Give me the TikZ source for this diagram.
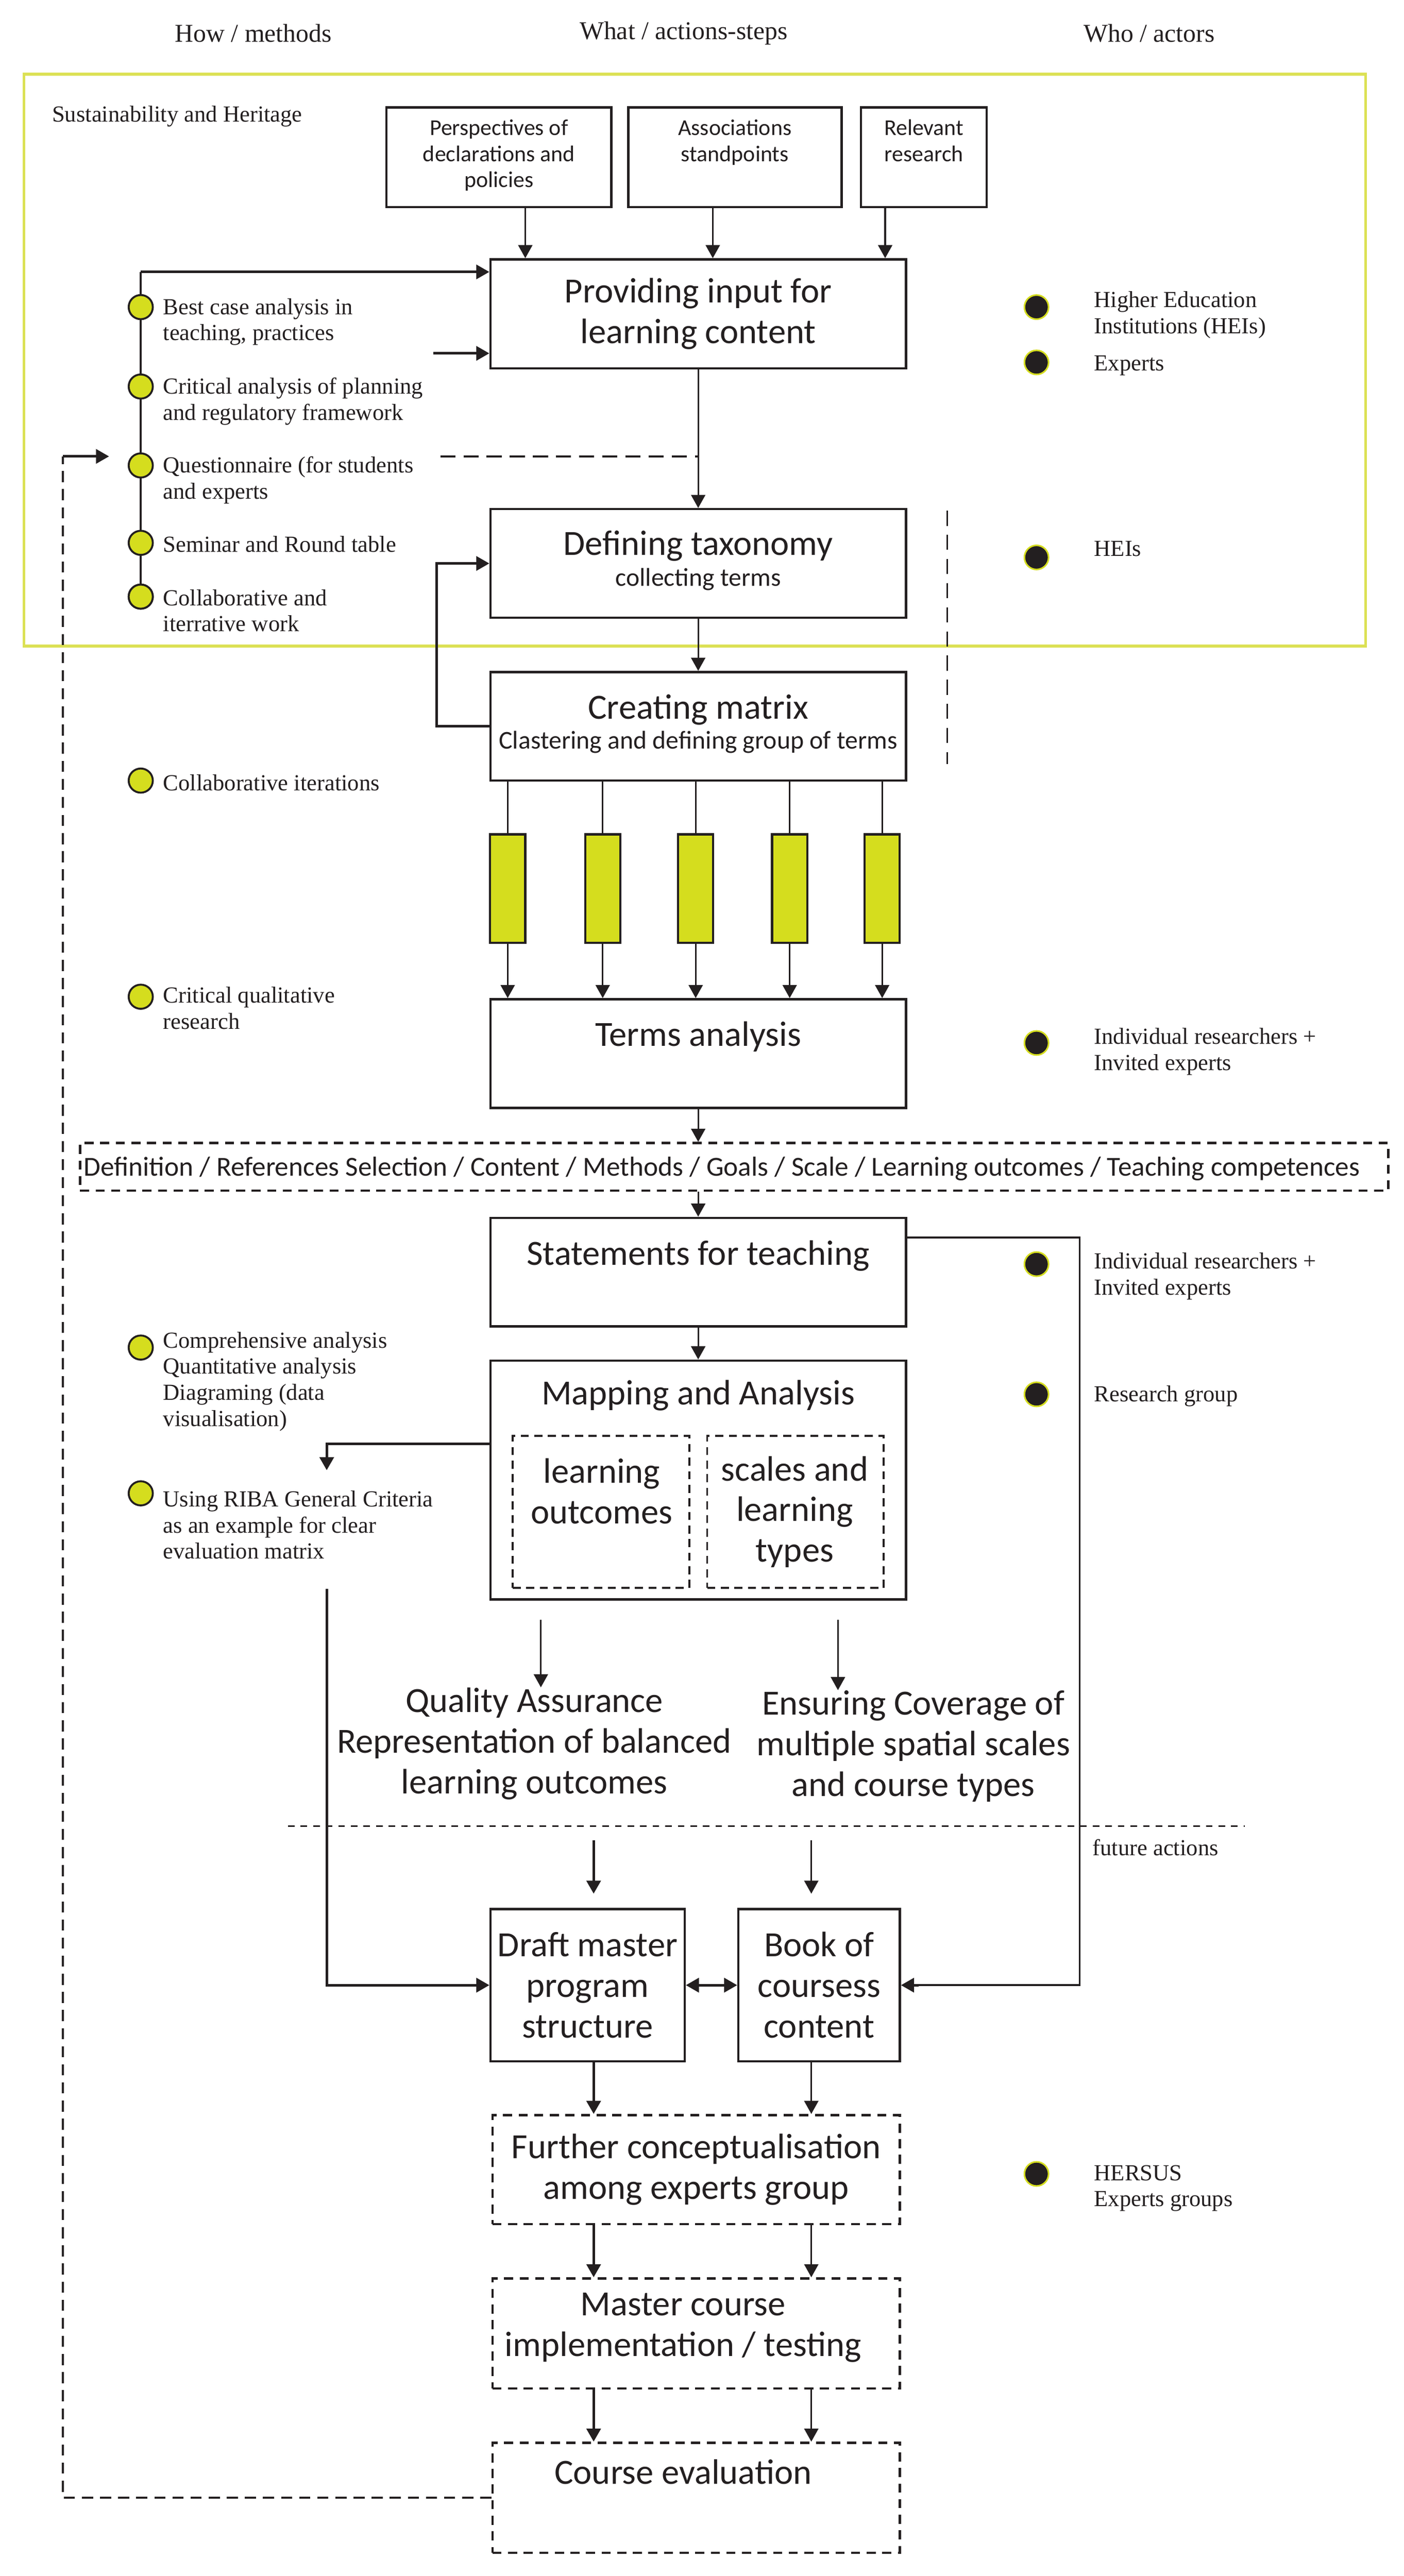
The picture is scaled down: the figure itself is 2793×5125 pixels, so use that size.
\documentclass[tikz,border=0pt]{standalone}
\usepackage{fontspec}
\setmainfont{Liberation Serif}
\newfontfamily\sansf{Carlito}
\usetikzlibrary{arrows.meta}
\definecolor{dk}{HTML}{231F20}
\definecolor{ylw}{RGB}{213,221,30}
\definecolor{frm}{RGB}{220,225,85}
\begin{document}
\begin{tikzpicture}[x=0.01cm,y=-0.01cm,
  >={Triangle[length=7.4pt,width=8pt]},
  big/.style={font=\sansf\fontsize{20}{23}\selectfont, align=center, inner sep=0pt, text=dk},
  mid/.style={font=\sansf\fontsize{14.5}{17}\selectfont, inner sep=0pt, text=dk},
  small/.style={font=\sansf\fontsize{12.8}{14.8}\selectfont, align=center, inner sep=0pt, text=dk},
  serif/.style={font=\fontsize{13}{14.8}\selectfont, align=left, inner sep=0pt, anchor=north west, text=dk},
  head/.style={font=\fontsize{14.5}{17}\selectfont, inner sep=0pt, text=dk},
  box/.style={draw=dk, line width=1.3pt, inner sep=0pt},
  dbox/.style={box, dash pattern=on 0.18cm off 0.13cm},
  ibox/.style={draw=dk, line width=1.1pt, inner sep=0pt, dash pattern=on 0.16cm off 0.11cm, minimum width=3.51cm, minimum height=3.02cm},
  ycirc/.style={circle, draw=dk, fill=ylw, line width=1.1pt, minimum size=0.48cm, inner sep=0pt},
  bcirc/.style={circle, draw=ylw, fill=dk, line width=0.9pt, minimum size=0.48cm, inner sep=0pt},
  bar/.style={draw=dk, fill=ylw, line width=1.2pt, minimum width=0.7cm, minimum height=2.16cm, inner sep=0pt},
  arr/.style={->, draw=dk, line width=0.9pt},
  tarr/.style={->, draw=dk, line width=1.5pt},
  dline/.style={draw=dk, line width=1.1pt, dash pattern=on 0.22cm off 0.14cm}
]
\useasboundingbox (0,0) rectangle (2793,5125);
\fill[white] (0,0) rectangle (2793,5125);

% headers
\node[head] (h1) at (504,66) {How / methods};
\node[head] (h2) at (1360,66) {What / actions-steps};
\node[head] (h3) at (2286,66) {Who / actors};

% yellow frame
\node[draw=frm, line width=1.5pt, minimum width=26.68cm, minimum height=11.37cm, inner sep=0pt] (frame) at (1382,716.5) {};
\node[serif, anchor=west] (sh) at (103,232) {Sustainability and Heritage};

% top input boxes
\node[box, minimum width=4.47cm, minimum height=1.98cm] (p1) at (992.5,313) {};
\node[box, minimum width=4.24cm, minimum height=1.98cm] (p2) at (1462,313) {};
\node[box, minimum width=2.50cm, minimum height=1.98cm] (p3) at (1838,313) {};
\node[small, anchor=north] (p1t) at (992.5,237) {Perspectives of\\declarations and\\policies};
\node[small, anchor=north] (p2t) at (1462,237) {Associations\\standpoints};
\node[small, anchor=north] (p3t) at (1838,237) {Relevant\\research};

% main column
\node[box, big, minimum width=8.26cm, minimum height=2.17cm] (prov) at (1389,624.5) {Providing input for\\learning content};
\draw[arr] ([xshift=0.525cm]p1.south) -- ([xshift=0.525cm]p1.south |- prov.north);
\draw[arr] ([xshift=-0.44cm]p2.south) -- ([xshift=-0.44cm]p2.south |- prov.north);
\draw[arr] ([xshift=-0.77cm]p3.south) -- ([xshift=-0.77cm]p3.south |- prov.north);

\node[box, minimum width=8.26cm, minimum height=2.16cm] (tax) at (1389,1121) {};
\node[big] (taxt) at (1389,1086) {Defining taxonomy};
\node[mid] (taxs) at (1389,1153) {collecting terms};

\node[box, minimum width=8.26cm, minimum height=2.16cm] (cm) at (1389,1445) {};
\node[big] (cmt) at (1389,1412) {Creating matrix};
\node[mid] (cms) at (1389,1476) {Clastering and defining group of terms};

\node[box, minimum width=8.26cm, minimum height=2.16cm] (terms) at (1389,2096) {};
\node[big] (termst) at (1389,2063) {Terms analysis};

\node[dbox, minimum width=26.01cm, minimum height=0.95cm] (defb) at (1460.5,2321.5) {};
\node[mid, font=\sansf\fontsize{15.55}{18}\selectfont] (defbt) at (1436,2325) {Definition / References Selection / Content / Methods / Goals / Scale / Learning outcomes / Teaching competences};

\node[box, minimum width=8.26cm, minimum height=2.16cm] (stat) at (1389,2531) {};
\node[big] (statt) at (1389,2498) {Statements for teaching};

\node[box, minimum width=8.26cm, minimum height=4.75cm] (map) at (1389,2944.5) {};
\node[big] (mapt) at (1389,2776) {Mapping and Analysis};
\node[ibox] (lo) at (1195.5,3008) {};
\node[ibox] (sl) at (1582.5,3008) {};
\node[big] (lot) at (1197,2967) {learning\\outcomes};
\node[big] (slt) at (1581,3008) {scales and\\learning\\types};

\node[big] (qa) at (1063,3469) {Quality Assurance\\Representation of balanced\\learning outcomes};
\node[big] (ec) at (1817,3474) {Ensuring Coverage of\\multiple spatial scales\\and course types};

\node[box, big, minimum width=3.86cm, minimum height=3.03cm] (draft) at (1169,3949.5) {Draft master\\program\\structure};
\node[box, big, minimum width=3.21cm, minimum height=3.03cm] (book) at (1629.5,3949.5) {Book of\\coursess\\content};

\node[dbox, big, minimum width=8.10cm, minimum height=2.17cm] (fur) at (1385,4316.5) {Further conceptualisation\\among experts group};
\node[dbox, minimum width=8.10cm, minimum height=2.19cm] (mas) at (1385,4642.5) {};
\node[big] (mast) at (1359,4631) {Master course\\implementation / testing};
\node[dbox, minimum width=8.10cm, minimum height=2.19cm] (ce) at (1385,4969.5) {};
\node[big] (cet) at (1359,4918) {Course evaluation};

% main arrows
\draw[arr] (prov.south) -- (tax.north);
\draw[arr] (tax.south) -- (cm.north);
\foreach \i/\xx in {1/1010,2/1199,3/1384,4/1571,5/1755}{
  \node[bar] (b\i) at (\xx,1768) {};
  \draw[draw=dk, line width=0.9pt] (b\i.north |- cm.south) -- (b\i.north);
  \draw[arr] (b\i.south) -- (b\i.south |- terms.north);
}
\draw[arr] (terms.south) -- (terms.south |- defb.north);
\draw[arr] (stat.north |- defb.south) -- (stat.north);
\draw[arr] (stat.south) -- (map.north);

% loop from matrix to taxonomy
\coordinate (lp) at (869,1445);
\draw[tarr] (cm.west) -- (lp) |- (tax.west);

% questionnaire dashed link
\coordinate (q1) at (876,908);
\draw[draw=dk, line width=1pt, dash pattern=on 0.3cm off 0.16cm] (q1) -- (q1 -| prov.south);

% right dashed divider
\coordinate (dv1) at (1884,1016);
\coordinate (dv2) at (1884,1520);
\draw[draw=dk, line width=0.9pt, dash pattern=on 0.3cm off 0.18cm] (dv1) -- (dv2);

% methods spine
\coordinate (sp) at (280,541);
\coordinate (s2) at (862,703);
\node[ycirc] (m5) at (280,1187) {};
\draw[draw=dk, line width=1.2pt] (sp) -- (m5.center);
\draw[tarr] (sp) -- (sp -| prov.west);
\draw[tarr] (s2) -- (s2 -| prov.west);
\node[ycirc] (m1) at (280,611) {};
\node[ycirc] (m2) at (280,769) {};
\node[ycirc] (m3) at (280,926) {};
\node[ycirc] (m4) at (280,1080) {};
\node[ycirc] (m5b) at (280,1187) {};
\node[serif] (t1) at (324,593) {Best case analysis in\\teaching, practices};
\node[serif] (t2) at (324,751) {Critical analysis of planning\\and regulatory framework};
\node[serif] (t3) at (324,908) {Questionnaire (for students\\and experts};
\node[serif] (t4) at (324,1066) {Seminar and Round table};
\node[serif] (t5) at (324,1172) {Collaborative and\\iterrative work};

\node[ycirc] (m6) at (280,1553) {};
\node[serif] (t6) at (324,1540) {Collaborative iterations};
\node[ycirc] (m7) at (280,1983) {};
\node[serif] (t7) at (324,1963) {Critical qualitative\\research};
\node[ycirc] (m8) at (280,2681) {};
\node[serif] (t8) at (324,2649) {Comprehensive analysis\\Quantitative analysis\\Diagraming (data\\visualisation)};
\node[ycirc] (m9) at (280,2971) {};
\node[serif] (t9) at (324,2965) {Using RIBA General Criteria\\as an example for clear\\evaluation matrix};

% actors
\node[bcirc] (a1) at (2062,611) {};
\node[serif] (at1) at (2176,579) {Higher Education\\Institutions (HEIs)};
\node[bcirc] (a2) at (2062,721) {};
\node[serif] (at2) at (2176,707) {Experts};
\node[bcirc] (a3) at (2062,1109) {};
\node[serif] (at3) at (2176,1076) {HEIs};
\node[bcirc] (a4) at (2062,2075) {};
\node[serif] (at4) at (2176,2045) {Individual researchers +\\Invited experts};
\node[bcirc] (a5) at (2062,2515) {};
\node[serif] (at5) at (2176,2492) {Individual researchers +\\Invited experts};
\node[bcirc] (a6) at (2062,2774) {};
\node[serif] (at6) at (2176,2756) {Research group};
\node[bcirc] (a7) at (2062,4325) {};
\node[serif] (at7) at (2176,4307) {HERSUS\\Experts groups};

% mapping -> RIBA, RIBA -> draft
\coordinate (mw) at ([yshift=0.715cm]map.west);
\coordinate (mdown) at (650,2925);
\draw[tarr] (mw) -| (mdown);
\coordinate (rb) at (650,3161);
\draw[tarr] (rb) |- (draft.west);

% statements -> book
\coordinate (st1) at ([yshift=0.69cm]stat.east);
\coordinate (rlx) at (2148,0);
\draw[draw=dk, line width=1pt] (st1) -- (st1 -| rlx) |- ([xshift=0.3cm]book.east);
\draw[tarr] ([xshift=0.35cm]book.east) -- (book.east);

% QA / EC arrows
\coordinate (qa0) at (1076,3223);
\coordinate (ec0) at (1667,3223);
\draw[arr] (qa0) -- (qa0 |- qa.north);
\draw[arr] (ec0) -- (ec0 |- ec.north);

% future actions divider
\coordinate (fl1) at (573,3633);
\coordinate (fl2) at (2476,3633);
\draw[draw=dk, line width=1pt, dash pattern=on 0.13cm off 0.12cm] (fl1) -- (fl2);
\node[serif] (fa) at (2173,3659) {future actions};

% arrows to draft / book and down the chain
\coordinate (d0) at (1181,3661);
\coordinate (e0) at (1614,3661);
\draw[tarr, shorten >=8pt] (d0) -- (d0 |- draft.north);
\draw[arr, shorten >=8pt] (e0) -- (e0 |- book.north);
\draw[<->, draw=dk, line width=1.5pt] (draft.east) -- (book.west);
\draw[tarr] (d0 |- draft.south) -- (d0 |- fur.north);
\draw[arr] (e0 |- book.south) -- (e0 |- fur.north);
\draw[tarr] (d0 |- fur.south) -- (d0 |- mas.north);
\draw[arr] (e0 |- fur.south) -- (e0 |- mas.north);
\draw[tarr] (d0 |- mas.south) -- (d0 |- ce.north);
\draw[arr] (e0 |- mas.south) -- (e0 |- ce.north);

% feedback loop
\coordinate (lx) at (125,908);
\coordinate (lt) at (217,908);
\draw[dline] (ce.west) -- (ce.west -| lx) -- (lx);
\draw[tarr] (lx) -- (lt);
\end{tikzpicture}
\end{document}
